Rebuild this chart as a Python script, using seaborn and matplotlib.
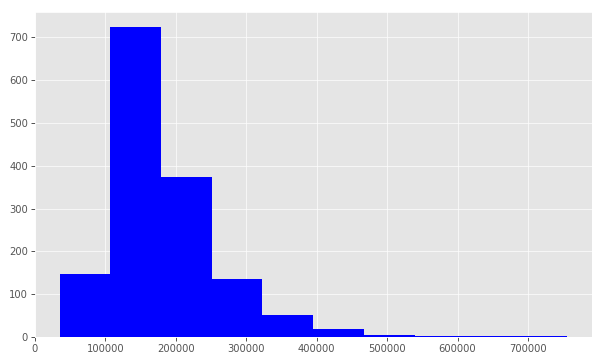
import matplotlib
matplotlib.use("Agg")
import matplotlib.pyplot as plt
import seaborn as sns
import numpy as np

plt.style.use("ggplot")

bin_edges = [34900, 106910, 178920, 250930, 322940, 394950, 466960, 538970, 610980, 682990, 755000]
counts = [148, 723, 373, 135, 51, 18, 4, 3, 2, 3]
centers = [(a + b) / 2 for a, b in zip(bin_edges[:-1], bin_edges[1:])]

fig = plt.figure(figsize=(601 / 60, 361 / 60), dpi=60)
ax = fig.add_axes([35 / 601, 24 / 361, 557 / 601, 325 / 361])
sns.histplot(x=centers, weights=counts, bins=bin_edges, color="blue",
             alpha=1.0, edgecolor="none", linewidth=0, ax=ax)
ax.set_xlabel("")
ax.set_ylabel("")
ax.set_xticks([0, 100000, 200000, 300000, 400000, 500000, 600000, 700000])
ax.set_xlim(0, 791005)
ax.set_ylim(0, 759)
ax.ticklabel_format(style="plain", axis="x")
ax.tick_params(labelsize=12, length=5, width=1.2)
fig.savefig("out.png", dpi=60)
